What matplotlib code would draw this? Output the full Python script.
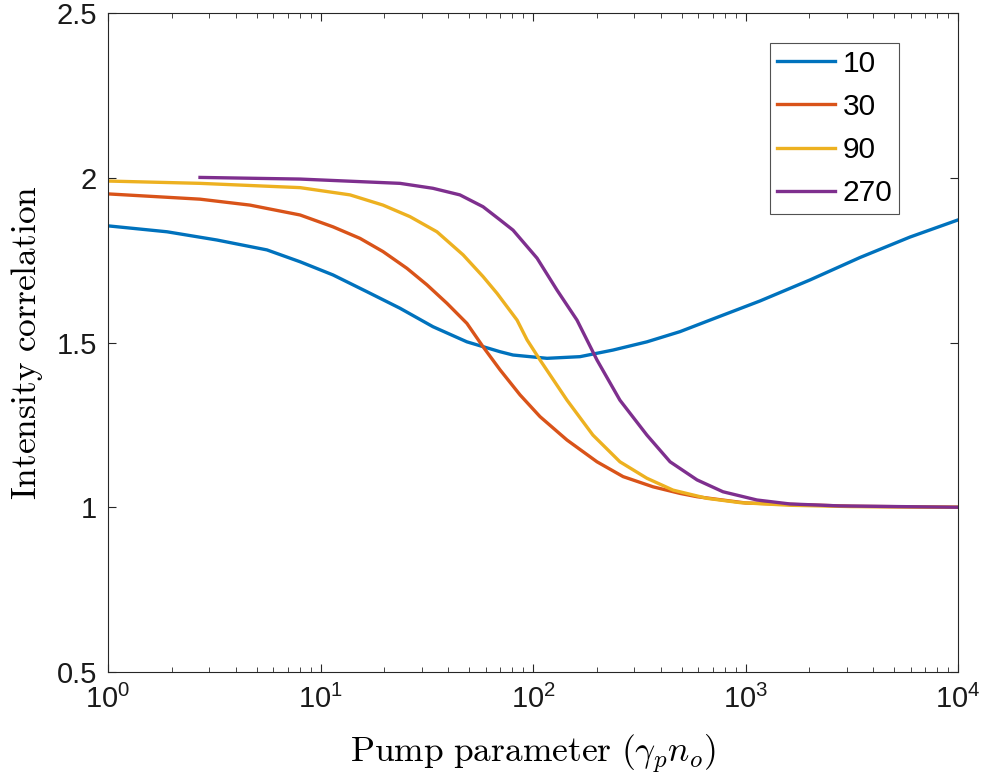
import numpy as np
import matplotlib
matplotlib.use("Agg")
import matplotlib.pyplot as plt
from matplotlib.ticker import LogLocator, NullFormatter, FixedLocator

plt.rcParams['mathtext.fontset'] = 'cm'
plt.rcParams['font.family'] = ['Liberation Sans', 'DejaVu Sans']

# log10 of the pump parameter, and intensity correlation, per series
lx10 = [0, 0.278, 0.513, 0.748, 0.904, 1.059, 1.219, 1.374, 1.529, 1.689, 1.845, 1.906, 2.066,
        2.221, 2.376, 2.536, 2.692, 2.833, 3.068, 3.304, 3.539, 3.774, 4.0]
g10 = [1.854, 1.836, 1.811, 1.781, 1.745, 1.705, 1.654, 1.604, 1.548, 1.502, 1.472, 1.462, 1.452,
       1.457, 1.477, 1.502, 1.533, 1.568, 1.626, 1.690, 1.758, 1.820, 1.872]

lx30 = [0, 0.433, 0.668, 0.904, 1.059, 1.186, 1.294, 1.407, 1.501, 1.595, 1.689, 1.765, 1.845,
        1.939, 2.033, 2.160, 2.301, 2.424, 2.565, 2.692, 2.772, 3.0, 3.5, 4.0]
g30 = [1.951, 1.935, 1.917, 1.887, 1.851, 1.816, 1.776, 1.725, 1.675, 1.619, 1.558, 1.487, 1.417,
       1.341, 1.275, 1.204, 1.138, 1.093, 1.062, 1.042, 1.032, 1.013, 1.003, 1.000]

lx90 = [0, 0.433, 0.904, 1.139, 1.294, 1.421, 1.548, 1.671, 1.765, 1.831, 1.925, 1.972, 2.033,
        2.160, 2.282, 2.409, 2.536, 2.659, 2.819, 2.974, 3.209, 3.5, 4.0]
g90 = [1.990, 1.983, 1.970, 1.948, 1.917, 1.882, 1.836, 1.766, 1.700, 1.649, 1.568, 1.508, 1.447,
       1.325, 1.219, 1.138, 1.088, 1.052, 1.027, 1.014, 1.006, 1.002, 1.000]

lx270 = [0.433, 0.904, 1.374, 1.529, 1.656, 1.765, 1.845, 1.906, 2.019, 2.113, 2.207, 2.301, 2.409,
         2.536, 2.645, 2.772, 2.894, 3.054, 3.209, 3.445, 4.0]
g270 = [2.001, 1.996, 1.983, 1.968, 1.948, 1.912, 1.872, 1.841, 1.756, 1.659, 1.568, 1.447, 1.325,
        1.219, 1.138, 1.083, 1.047, 1.022, 1.010, 1.004, 1.000]

labels = ['10', '30', '90', '270']
colors = ['#0072BD', '#D95319', '#EDB120', '#7E2F8E']
yticks = [0.5, 1, 1.5, 2, 2.5]
ytick_labels = ['0.5', '1', '1.5', '2', '2.5']

fig = plt.figure(figsize=(9.91, 7.76), dpi=100)
ax = fig.add_axes([108/991, 1-672/776, (958-108)/991, (672-13)/776])

series = [(lx10, g10), (lx30, g30), (lx90, g90), (lx270, g270)]
for (lx, yy), lab, c in zip(series, labels, colors):
    ax.plot(10 ** np.array(lx), yy, color=c, lw=2.4, label=lab, solid_joinstyle='round')

ax.set_xscale('log')
ax.set_xlim(1, 1e4)
ax.set_ylim(0.5, 2.5)
ax.yaxis.set_major_locator(FixedLocator(yticks))
ax.set_yticklabels(ytick_labels)
ax.xaxis.set_major_locator(LogLocator(base=10, numticks=10))
ax.xaxis.set_minor_locator(LogLocator(base=10, subs=np.arange(2, 10), numticks=20))
ax.xaxis.set_minor_formatter(NullFormatter())

spine_c = '#262626'
for s in ax.spines.values():
    s.set_color(spine_c)
    s.set_linewidth(0.8)
ax.tick_params(axis='both', which='major', direction='in', length=6, width=0.8,
               top=True, right=True, colors=spine_c, labelcolor='#1a1a1a', labelsize=21)
ax.tick_params(axis='x', which='major', pad=9)
ax.tick_params(axis='y', which='major', pad=8)
ax.tick_params(axis='both', which='minor', direction='in', length=3.5, width=0.6,
               top=True, right=True, colors=spine_c)

ax.set_xlabel(r'$\mathrm{Pump\ parameter\ }(\gamma_p n_o)$', fontsize=25.5, labelpad=14)
ax.set_ylabel(r'$\mathrm{Intensity\ correlation}$', fontsize=25.5, labelpad=8)

leg = ax.legend(loc='upper right', bbox_to_anchor=((899-108)/850, (672-43)/659),
                fontsize=21.5, frameon=True, fancybox=False, handlelength=1.95,
                handletextpad=0.25, borderpad=0.22, labelspacing=0.51, borderaxespad=0)
leg.get_frame().set_edgecolor('#262626')
leg.get_frame().set_linewidth(0.8)

fig.savefig('out.png', dpi=100)
